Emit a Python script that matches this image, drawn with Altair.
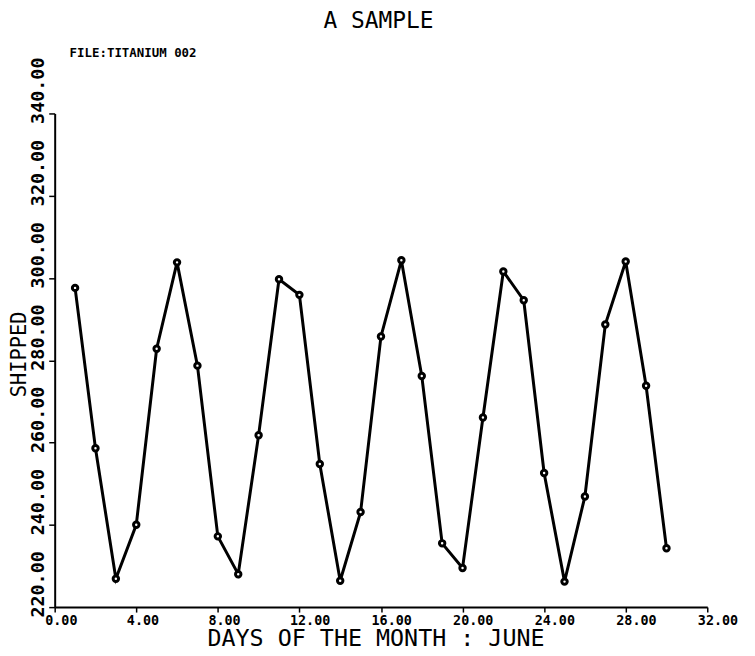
import altair as alt
import pandas as pd

# ---- data ----
days = list(range(1, 31))
shipped = [297.6, 258.6, 226.9, 240.0, 282.8, 303.8, 278.7, 237.2, 228.0, 261.8,
           299.7, 295.9, 254.8, 226.4, 243.1, 285.8, 304.3, 276.2, 235.5, 229.5,
           266.1, 301.6, 294.6, 252.6, 226.2, 246.9, 288.7, 304.0, 273.8, 234.3]
x_ticks = [0, 4, 8, 12, 16, 20, 24, 28, 32]
y_ticks = [220, 240, 260, 280, 300, 320, 340]
chart_title = ["A SAMPLE"]
file_label = ["FILE:TITANIUM 002"]
x_title = "DAYS OF THE MONTH : JUNE"
y_title = "SHIPPED"

df = pd.DataFrame({"day": days, "shipped": shipped})

MONO = "DejaVu Sans Mono"

x_enc = alt.X(
    "day:Q",
    scale=alt.Scale(domain=[0, 32], nice=False, zero=False),
    axis=alt.Axis(
        values=x_ticks, format=".2f", title=x_title, grid=False,
        labelFont=MONO, labelFontWeight="bold", labelFontSize=13.5, labelColor="black",
        labelAlign="left", labelBaseline="top", labelOffset=-10, labelPadding=1.5,
        labelFlush=False, labelOverlap=False, labelBound=False,
        tickSize=5, tickColor="black", tickWidth=1.5,
        domainColor="black", domainWidth=2,
        titleFont=MONO, titleFontSize=23.5, titleFontWeight="normal", titleColor="black",
        titleX=323, titleY=39, titleAlign="center", titleBaseline="alphabetic",
    ),
)
y_enc = alt.Y(
    "shipped:Q",
    scale=alt.Scale(domain=[220, 340], nice=False, zero=False),
    axis=alt.Axis(
        values=y_ticks, format=".2f", title=y_title, grid=False,
        labelFont=MONO, labelFontWeight="bold", labelFontSize=18.5, labelColor="black",
        labelAngle=270, labelAlign="left", labelBaseline="middle",
        labelOffset=10, labelPadding=11.5,
        labelFlush=False, labelOverlap=False, labelBound=False,
        tickSize=6, tickColor="black", tickWidth=1.5,
        domainColor="black", domainWidth=2,
        titleFont=MONO, titleFontSize=20.5, titleFontWeight="normal", titleColor="black",
        titleAngle=270, titleX=-35, titleY=242, titleAlign="center", titleBaseline="middle",
    ),
)

base = alt.Chart(df)
line = base.mark_line(color="black", strokeWidth=3).encode(x=x_enc, y=y_enc)
points = base.mark_point(
    shape="circle", size=30, filled=False, fill="white", fillOpacity=1,
    stroke="black", strokeWidth=3, opacity=1,
).encode(x="day:Q", y="shipped:Q")

title_text = alt.Chart(pd.DataFrame({"t": chart_title})).mark_text(
    font=MONO, fontSize=23, align="center", baseline="middle", color="black"
).encode(text="t:N", x=alt.value(326), y=alt.value(-93))

file_text = alt.Chart(pd.DataFrame({"t": file_label})).mark_text(
    font=MONO, fontSize=12.5, fontWeight="bold", align="left", baseline="middle", color="black"
).encode(text="t:N", x=alt.value(15), y=alt.value(-61))

chart = alt.layer(line, points, title_text, file_text).properties(
    width=657,
    height=497,
    autosize=alt.AutoSizeParams(type="none"),
    padding={"left": 47, "top": 104, "right": 40, "bottom": 39},
    background="white",
).configure_view(stroke=None)

chart.save("out.html", embed_options={"renderer": "svg", "actions": False})
